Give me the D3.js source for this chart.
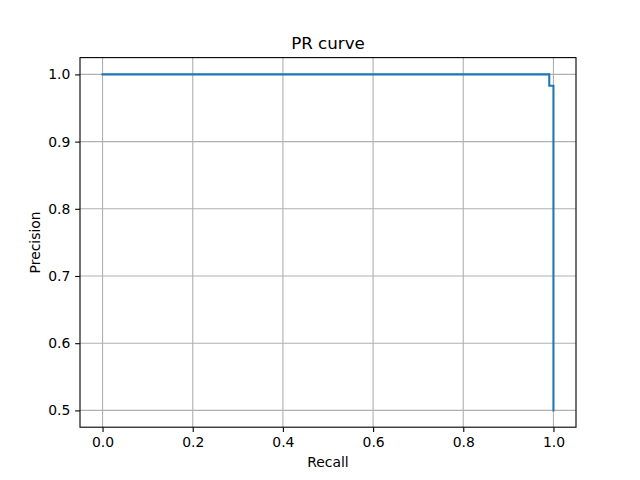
<!DOCTYPE html>
<html>
<head>
<meta charset="utf-8">
<script src="https://cdn.jsdelivr.net/npm/d3@7"></script>
<style>
  body { margin: 0; background: #fff; }
  text { font-family: "DejaVu Sans", sans-serif; fill: #000; }
  .tick text { font-size: 13.9px; }
  .grid line { stroke: #b0b0b0; stroke-width: 1.1px; }
</style>
</head>
<body>
<div id="chart"></div>
<script>
// PR curve data
const recall = [0.0, 0.9907, 1.0];
const precision = [1.0, 0.983, 0.5];
const xTicks = [0.0, 0.2, 0.4, 0.6, 0.8, 1.0];
const yTicks = [0.5, 0.6, 0.7, 0.8, 0.9, 1.0];

const W = 640, H = 480;
const margin = {top: 57.6, right: 64, bottom: 52.8, left: 80};
const width = W - margin.left - margin.right;
const height = H - margin.top - margin.bottom;

const svg = d3.select("#chart").append("svg")
    .attr("width", W)
    .attr("height", H);

const g = svg.append("g")
    .attr("transform", `translate(${margin.left},${margin.top})`);

// matplotlib-style 5% margins
const x = d3.scaleLinear().domain([-0.05, 1.05]).range([0, width]);
const y = d3.scaleLinear().domain([0.475, 1.025]).range([height, 0]);

// grid
g.append("g").attr("class", "grid")
    .selectAll("line").data(xTicks).enter().append("line")
    .attr("x1", d => x(d)).attr("x2", d => x(d))
    .attr("y1", 0).attr("y2", height);
g.append("g").attr("class", "grid")
    .selectAll("line").data(yTicks).enter().append("line")
    .attr("y1", d => y(d)).attr("y2", d => y(d))
    .attr("x1", 0).attr("x2", width);

// curve
const pts = recall.map((r, i) => [r, precision[i]]);
g.append("path")
    .datum(pts)
    .attr("fill", "none")
    .attr("stroke", "#1f77b4")
    .attr("stroke-width", 2.08)
    .attr("stroke-linejoin", "miter")
    .attr("stroke-linecap", "square")
    .attr("d", d3.line().x(d => x(d[0])).y(d => y(d[1])).curve(d3.curveStepAfter));

// axes
const xAxis = g.append("g")
    .attr("transform", `translate(0,${height})`)
    .call(d3.axisBottom(x).tickValues(xTicks).tickFormat(d3.format(".1f")).tickSizeInner(4.86).tickSizeOuter(0).tickPadding(4.86));
const yAxis = g.append("g")
    .call(d3.axisLeft(y).tickValues(yTicks).tickFormat(d3.format(".1f")).tickSizeInner(4.86).tickSizeOuter(0).tickPadding(4.86));

[xAxis, yAxis].forEach(a => {
    a.select(".domain").remove();
    a.selectAll(".tick line").attr("stroke", "#000").attr("stroke-width", 1.1);
});

// frame
g.append("rect")
    .attr("width", width).attr("height", height)
    .attr("fill", "none").attr("stroke", "#000").attr("stroke-width", 1.1);

// labels
svg.append("text")
    .attr("x", margin.left + width / 2).attr("y", margin.top - 8.3)
    .attr("text-anchor", "middle")
    .style("font-size", "16.7px")
    .text("PR curve");

svg.append("text")
    .attr("x", margin.left + width / 2).attr("y", H - 13)
    .attr("text-anchor", "middle")
    .style("font-size", "13.9px")
    .text("Recall");

svg.append("text")
    .attr("transform", `translate(40,${margin.top + height / 2}) rotate(-90)`)
    .attr("text-anchor", "middle")
    .style("font-size", "13.9px")
    .text("Precision");
</script>
</body>
</html>
